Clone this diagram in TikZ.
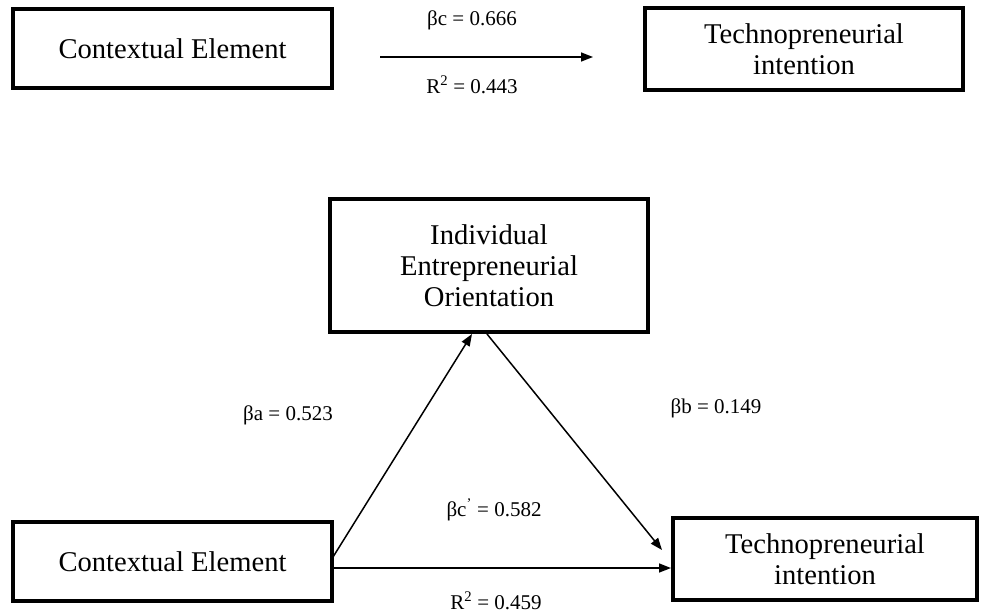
\documentclass[tikz,border=0pt]{standalone}
\usepackage{fontspec}
\setmainfont{Liberation Serif}
\usetikzlibrary{arrows.meta}
\tikzset{
  boxnode/.style={draw=black, line width=4pt, rectangle, align=center, inner sep=0pt,
    font=\fontsize{28.6}{31}\selectfont},
  conn/.style={draw=black, line width=1.5pt, -{Triangle[length=12pt,width=9pt]}},
  lbl/.style={font=\fontsize{21}{24}\selectfont, inner sep=0pt}
}
\begin{document}
\begin{tikzpicture}[x=1pt,y=-1pt]
\useasboundingbox (0,0) rectangle (981,613);
% top model
\node[boxnode, minimum width=319pt, minimum height=79pt] (A) at (172.5,48.5) {Contextual Element};
\node[boxnode, minimum width=318pt, minimum height=82pt] (B) at (804,49) {Technopreneurial\\intention};
\coordinate (t1) at (380,57);
\coordinate (t2) at (593,57);
\draw[conn] (t1) -- (t2);
\node[lbl] (lc) at (472,20) {βc = 0.666};
\node[lbl] (lr1) at (472,85) {R\textsuperscript{2} = 0.443};
% mediation model
\node[boxnode, minimum width=318pt, minimum height=133pt] (M) at (489,265.5) {Individual\\Entrepreneurial\\Orientation};
\node[boxnode, minimum width=319pt, minimum height=79pt] (C) at (172.5,561.5) {Contextual Element};
\node[boxnode, minimum width=304pt, minimum height=82pt] (D) at (825,559) {Technopreneurial\\intention};
\coordinate (c1) at (333,557);
\coordinate (m1) at (472,334);
\coordinate (m2) at (487,334);
\coordinate (d1) at (662,550);
\coordinate (c2) at (334,568);
\coordinate (d2) at (671,568);
\draw[conn] (c1) -- (m1);
\draw[conn] (m2) -- (d1);
\draw[conn] (c2) -- (d2);
\node[lbl] (la) at (288,415) {βa = 0.523};
\node[lbl] (lb) at (716,408) {βb = 0.149};
\node[lbl] (lcp) at (494,510) {βc\textsuperscript{’} = 0.582};
\node[lbl] (lr2) at (496,601) {R\textsuperscript{2} = 0.459};
\end{tikzpicture}
\end{document}
